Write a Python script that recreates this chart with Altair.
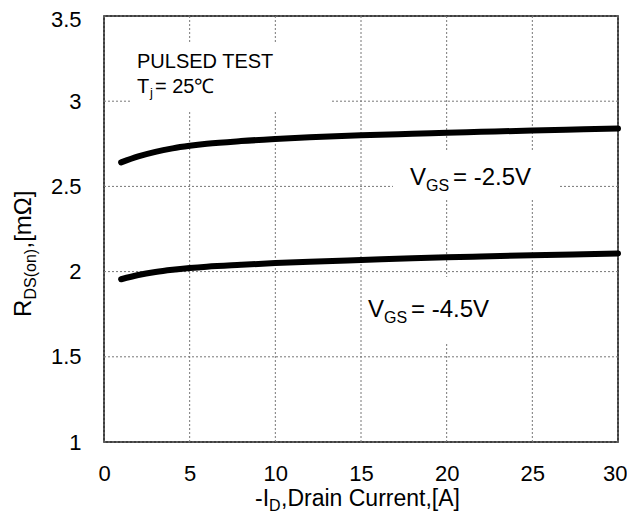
import altair as alt
import pandas as pd

# ---- data ----
current = [1, 2, 3, 4, 5, 6, 8, 10, 12, 15, 18, 20, 22, 25, 28, 30]
rds_vgs_2p5 = [2.641, 2.676, 2.703, 2.723, 2.738, 2.750, 2.766, 2.778, 2.788,
               2.800, 2.809, 2.815, 2.820, 2.828, 2.835, 2.840]
rds_vgs_4p5 = [1.955, 1.980, 1.998, 2.011, 2.021, 2.029, 2.040, 2.050, 2.058,
               2.068, 2.078, 2.084, 2.089, 2.096, 2.102, 2.106]
series_names = ["VGS = -2.5V", "VGS = -4.5V"]
x_ticks = [0, 5, 10, 15, 20, 25, 30]
y_ticks = [1, 1.5, 2, 2.5, 3, 3.5]

rows = []
for name, vals in zip(series_names, [rds_vgs_2p5, rds_vgs_4p5]):
    for c, r in zip(current, vals):
        rows.append({"I": c, "R": r, "series": name})
df = pd.DataFrame(rows)
one = pd.DataFrame({"k": [0]})

W, H = 514, 426
FONT = "Liberation Sans"

xscale = alt.Scale(domain=[0, 30], nice=False, zero=False)
yscale = alt.Scale(domain=[1, 3.5], nice=False, zero=False)

xaxis = alt.Axis(values=x_ticks, title=None, grid=False, ticks=False, tickSize=0,
                 domain=False, labelFontSize=22, labelFont=FONT, labelColor="black",
                 labelPadding=21, format="~g", labelFlush=False, labelOverlap=False,
                 labelAlign={"condition": {"test": "datum.value == 30", "value": "right"},
                             "value": "center"},
                 labelOffset={"condition": {"test": "datum.value == 30", "value": 9},
                              "value": 0})
yaxis = alt.Axis(values=y_ticks, title=None, grid=False, ticks=False, tickSize=0,
                 domain=False, labelFontSize=22, labelFont=FONT, labelColor="black",
                 labelPadding=23, format="~g", labelFlush=False, labelOverlap=False,
                 labelOffset={"condition": {"test": "datum.value == 3.5", "value": 3},
                              "value": 0})

grid_style = dict(color="#777777", strokeDash=[2, 2], strokeWidth=1)

vgrid = alt.Chart(pd.DataFrame({"x": x_ticks})).mark_rule(**grid_style).encode(
    x=alt.X("x:Q", scale=xscale, axis=xaxis))
hgrid = alt.Chart(pd.DataFrame({"y": y_ticks})).mark_rule(**grid_style).encode(
    y=alt.Y("y:Q", scale=yscale, axis=yaxis))


def box(x1, x2, y1, y2):
    return alt.Chart(one).mark_rect(color="white").encode(
        x=alt.value(x1), x2=alt.value(x2), y=alt.value(y1), y2=alt.value(y2))


boxes = [box(28, 228, 26, 96), box(289, 455, 136, 184), box(258, 396, 261, 327)]


def txt(s, x, y, size, angle=0):
    return alt.Chart(one).mark_text(
        text=s, font=FONT, fontSize=size, color="black", angle=angle,
        baseline="alphabetic", align="left"
    ).encode(x=alt.value(x), y=alt.value(y))


lines = alt.Chart(df).mark_line(color="black", strokeWidth=6, strokeCap="round",
                                interpolate="monotone").encode(
    x=alt.X("I:Q", scale=xscale, axis=xaxis),
    y=alt.Y("R:Q", scale=yscale, axis=yaxis),
    detail="series:N")

annotations = [
    txt("PULSED TEST", 33, 52, 20),
    txt("T", 33, 77, 20),
    txt("j", 46, 81, 13),
    txt("= 25\u2103", 51, 77, 20),
    txt("V", 306, 169, 24),
    txt("GS", 322, 175, 16),
    txt("= -2.5V", 349, 169, 24),
    txt("V", 264, 301, 24),
    txt("GS", 280, 307, 16),
    txt("= -4.5V", 307, 301, 24),
    # y axis title
    txt("R", -73, 301, 24, angle=270),
    txt("DS(on)", -68, 283.5, 16, angle=270),
    txt(",[m\u03a9]", -73, 232.5, 24, angle=270),
    # x axis title
    txt("-I", 151, 490, 23),
    txt("D", 165, 495, 16),
    txt(",Drain Current,[A]", 177, 490, 23),
]

chart = alt.layer(vgrid, hgrid, *boxes, lines, *annotations).properties(
    width=W, height=H,
    autosize=alt.AutoSizeParams(type="none"),
    padding={"left": 96, "top": 8, "right": 9, "bottom": 71},
    background="white",
).configure_view(stroke="black", strokeWidth=1.5)

chart.save("out.html", embed_options={"renderer": "svg", "actions": False})
